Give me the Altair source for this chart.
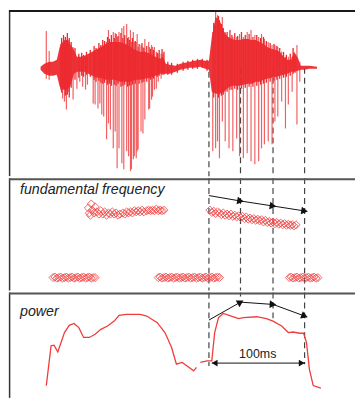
import altair as alt
import pandas as pd
import numpy as np

# ---------------- data ----------------
# waveform: dense core envelope (time ms, upper amp, lower amp)
core_t = [33, 37, 42, 46, 50, 53, 56, 60, 64, 68, 71, 75, 79, 83, 87, 92, 96, 101, 106, 111,
          116, 122, 127, 132, 137, 142, 148, 153, 158, 161, 164, 168, 174, 179, 184, 189, 194,
          200, 205, 209, 212, 216, 220, 225, 229, 233, 237, 241, 245, 250, 254, 258, 262, 266,
          270, 275, 279, 283, 287, 291, 295, 298, 302, 305, 309, 314, 322]
core_hi = [0.01, 0.04, 0.06, 0.06, 0.08, 0.21, 0.26, 0.28, 0.24, 0.18, 0.11, 0.11, 0.12, 0.14,
           0.16, 0.19, 0.21, 0.24, 0.26, 0.26, 0.26, 0.24, 0.21, 0.18, 0.16, 0.16, 0.14, 0.11,
           0.09, 0.11, 0.04, 0.03, 0.02, 0.04, 0.05, 0.06, 0.07, 0.08, 0.07, 0.07, 0.31, 0.51,
           0.48, 0.36, 0.31, 0.29, 0.28, 0.28, 0.29, 0.29, 0.28, 0.28, 0.26, 0.24, 0.21, 0.19,
           0.18, 0.16, 0.11, 0.08, 0.08, 0.16, 0.10, 0.02, 0.02, 0.02, 0.01]
core_lo = [-0.02, -0.06, -0.08, -0.08, -0.07, -0.19, -0.22, -0.22, -0.19, -0.06, -0.04, -0.04,
           -0.04, -0.06, -0.08, -0.10, -0.10, -0.12, -0.12, -0.12, -0.14, -0.14, -0.14, -0.12,
           -0.12, -0.11, -0.10, -0.08, -0.06, -0.06, -0.06, -0.06, -0.04, -0.02, -0.01, 0.00,
           0.00, 0.01, -0.01, -0.02, -0.24, -0.26, -0.26, -0.24, -0.20, -0.18, -0.18, -0.18,
           -0.17, -0.16, -0.16, -0.14, -0.14, -0.12, -0.11, -0.10, -0.09, -0.08, -0.07, -0.06,
           -0.04, -0.04, -0.03, -0.02, -0.02, -0.01, -0.01]

# waveform: pitch-pulse spikes (time ms, upper amp, lower amp)
spike_t = [39, 42, 54, 56, 58, 60, 62, 67, 71, 74, 77, 80, 82, 88, 90, 93, 95, 97, 99, 102,
           104, 106, 109, 111, 113, 115, 118, 120, 123, 125, 127, 128, 130, 131, 133, 134, 135,
           138, 140, 142, 146, 147, 149, 150, 152, 154, 156, 159, 161, 213, 216, 218, 220, 223,
           226, 230, 234, 238, 241, 245, 249, 253, 257, 261, 264, 267, 271, 275, 278, 281, 285,
           289, 292, 296, 301, 304]
spike_hi = [0.37, 0.17, 0.24, 0.24, 0.28, 0.28, 0.28, 0.21, 0.06, 0.09, 0.11, 0.11, 0.11, 0.16,
            0.18, 0.19, 0.20, 0.21, 0.22, 0.26, 0.38, 0.26, 0.36, 0.35, 0.31, 0.36, 0.40, 0.42,
            0.44, 0.31, 0.38, 0.26, 0.36, 0.26, 0.26, 0.34, 0.21, 0.23, 0.21, 0.29, 0.26, 0.21,
            0.23, 0.21, 0.21, 0.16, 0.14, 0.14, 0.14, 0.36, 0.61, 0.53, 0.48, 0.51, 0.36, 0.31,
            0.31, 0.31, 0.34, 0.31, 0.36, 0.38, 0.33, 0.31, 0.34, 0.29, 0.26, 0.23, 0.23, 0.21,
            0.16, 0.11, 0.11, 0.11, 0.23, 0.06]
spike_lo = [-0.11, -0.12, -0.22, -0.31, -0.34, -0.42, -0.24, -0.32, -0.21, -0.14, -0.19, -0.22,
            -0.17, -0.36, -0.37, -0.41, -0.36, -0.47, -0.49, -0.72, -0.56, -0.62, -0.81, -0.64,
            -1.01, -0.81, -0.96, -1.02, -0.84, -0.89, -1.04, -1.02, -0.92, -0.89, -0.91, -0.84,
            -0.82, -0.64, -0.66, -0.52, -0.42, -0.41, -0.32, -0.29, -0.22, -0.21, -0.14, -0.11,
            -0.06, -0.84, -0.81, -0.74, -0.91, -0.54, -0.74, -0.81, -0.84, -0.71, -0.89, -0.91,
            -0.86, -0.94, -0.97, -0.94, -0.81, -0.77, -0.74, -0.77, -0.54, -0.49, -0.34, -0.61,
            -0.37, -0.24, -0.57, -0.14]

# waveform: small ripples on the dense core (time ms, upper amp, lower amp)
ripple_t = [55, 57, 59, 61, 63, 65, 69, 73, 76, 78, 81, 85,
            89, 91, 94, 96, 98, 100, 103, 105, 107, 110, 112, 114, 117, 119, 121, 124, 126, 129,
            132, 136, 139, 141, 144, 148, 151, 155, 157, 160, 162,
            166, 170, 176, 182, 187, 192, 197, 202, 207,
            214, 219, 222, 224, 228, 231, 233, 236, 239, 243, 247, 251, 255, 259, 263, 266, 269,
            273, 277, 280, 283, 287, 290, 294, 297, 299]
ripple_hi = [0.30, 0.33, 0.31, 0.35, 0.30, 0.26, 0.20, 0.14, 0.15, 0.13, 0.16, 0.18,
             0.22, 0.20, 0.25, 0.23, 0.28, 0.27, 0.31, 0.29, 0.33, 0.30, 0.34, 0.32, 0.35, 0.30,
             0.33, 0.30, 0.28, 0.30, 0.27, 0.24, 0.25, 0.20, 0.22, 0.19, 0.18, 0.15, 0.18, 0.19,
             0.16,
             0.06, 0.05, 0.04, 0.06, 0.07, 0.08, 0.09, 0.09, 0.08,
             0.45, 0.52, 0.44, 0.40, 0.36, 0.38, 0.33, 0.35, 0.32, 0.36, 0.33, 0.34, 0.31, 0.33,
             0.30, 0.31, 0.27, 0.25, 0.24, 0.22, 0.20, 0.16, 0.13, 0.14, 0.20, 0.12]
ripple_lo = [-0.25, -0.20, -0.28, -0.27, -0.30, -0.20, -0.12, -0.10, -0.08, -0.09, -0.07, -0.09,
             -0.12, -0.14, -0.13, -0.15, -0.16, -0.15, -0.17, -0.16, -0.18, -0.17, -0.18, -0.16,
             -0.19, -0.18, -0.17, -0.19, -0.18, -0.17, -0.16, -0.16, -0.15, -0.14, -0.14, -0.12,
             -0.11, -0.09, -0.08, -0.07, -0.07,
             -0.07, -0.07, -0.05, -0.03, -0.02, -0.01, -0.01, 0.00, -0.03,
             -0.30, -0.30, -0.28, -0.27, -0.24, -0.22, -0.22, -0.21, -0.22, -0.21, -0.20, -0.19,
             -0.19, -0.18, -0.17, -0.16, -0.15, -0.14, -0.13, -0.12, -0.11, -0.10, -0.09, -0.08,
             -0.06, -0.05]

# fundamental frequency estimates (time ms, Hz)
f0_t = [83, 84, 85, 86, 87, 89, 90, 92, 94, 96, 98, 100, 102, 104, 106, 108, 110, 112, 114, 116,
        119, 121, 123, 125, 127, 129, 131, 133, 135, 137, 139, 141, 144, 146, 148, 150, 152, 154,
        156, 158, 160, 162,
        210, 212, 214, 216, 218, 220, 222, 224, 226, 228, 230, 232, 234, 236, 238, 240, 242, 244,
        246, 248, 250, 252, 254, 256, 258, 260, 262, 264, 266, 268, 270, 272, 274, 276, 278, 280,
        282, 284, 286, 288, 290, 292, 294, 296, 298, 300,
        46, 48, 50, 52, 54, 56, 58, 60, 62, 64, 66, 68, 70, 72, 74, 76, 78, 80, 82, 84, 86, 88, 90,
        156, 158, 160, 162, 164, 166, 168, 170, 172, 174, 176, 178, 180, 182, 184, 186, 188, 190,
        192, 194, 196, 198, 200, 202, 204, 206, 208, 210, 212, 214, 216, 218, 220,
        293, 295, 297, 299, 301, 303, 305, 307, 309, 311, 313, 315, 317, 319, 321, 323]
f0_v = [187, 178, 174, 194, 183, 178, 189, 180, 176, 182, 176, 180, 174, 178, 176, 180, 176, 178,
        174, 176, 178, 176, 180, 178, 180, 178, 182, 180, 182, 180, 183, 180, 182, 183, 182, 183,
        182, 185, 182, 183, 182, 183,
        183, 179, 181, 177, 180, 178, 175, 178, 174, 176, 173, 176, 172, 174, 171, 173, 170, 172,
        168, 171, 167, 169, 166, 168, 165, 167, 164, 166, 162, 165, 161, 163, 160, 162, 159, 161,
        158, 160, 157, 159, 156, 158, 156, 157, 155, 157,
        63, 64, 62, 63, 64, 62, 63, 64, 62, 63, 64, 62, 63, 64, 62, 63, 64, 62, 63, 64, 62, 63, 63,
        63, 64, 62, 63, 64, 62, 63, 64, 62, 63, 64, 62, 63, 64, 62, 63, 64, 62, 63, 64, 62, 63, 64,
        62, 63, 64, 62, 63, 64, 62, 63, 64, 63,
        63, 64, 62, 63, 64, 62, 63, 64, 62, 63, 64, 62, 63, 64, 62, 63]

# power contour (time ms, dB, voiced segment id)
pow_t = [39, 44, 47, 51, 58, 63, 68, 73, 78, 84, 90, 96, 103, 110, 115, 123, 137, 144, 155, 163,
         170, 175, 181, 188, 193, 196,
         200, 207, 212, 215, 219, 224, 234, 240, 245, 259, 269, 276, 285, 292, 297, 304, 308, 311,
         314, 318, 326]
pow_db = [7.0, 29.6, 30.0, 26.2, 37.2, 41.3, 42.4, 40.0, 34.4, 34.4, 36.2, 39.0, 40.9, 43.7, 47.0,
          47.5, 47.5, 46.6, 42.8, 37.2, 28.7, 19.2, 20.2, 17.4, 15.4, 17.4,
          20.2, 21.1, 21.1, 37.2, 45.7, 48.1, 46.2, 45.1, 45.7, 46.2, 45.1, 43.7, 40.9, 37.2, 37.5,
          36.8, 36.8, 31.5, 16.4, 7.0, 5.5]
pow_seg = ["a"] * 26 + ["b"] * 21

# frame boundaries (ms) and trend arrows
mark_t = [209, 242, 276, 309]
f0_arrow = [209, 199.3, 190.4, 181.6]
pow_arrow = [44.3, 54.5, 53.2, 46.6]
wave_dash_top = [-0.04, 0.0, 0.0, 0.0]
pow_dash_end = [18.1, 57.7, 43.0, 19.2]
span_t = [212, 309]
span_db = 19.8

# ---------------- layout ----------------
W = 348
H_WAVE, H_F0, H_POW = 167, 113, 106
X_DOM = [0, 361.7]
WAVE_DOM = [-1.09, 0.58]
F0_DOM = [40, 240]
POW_DOM = [0.0, 60]
RED = "#ec2a2f"
DASH = "#444444"
FONT = "Liberation Sans"

def xs():
    return alt.Scale(domain=X_DOM, nice=False, zero=False)

def ys(dom):
    return alt.Scale(domain=dom, nice=False, zero=False, clamp=True)

def frame(h, top_color, top_w):
    d = pd.DataFrame({"k": [0]})
    left = alt.Chart(d).mark_rule(color="#333333", strokeWidth=1.5).encode(
        x=alt.value(0.6), y=alt.value(0), y2=alt.value(h))
    top = alt.Chart(d).mark_rule(color=top_color, strokeWidth=top_w).encode(
        x=alt.value(0), x2=alt.value(W), y=alt.value(1))
    return [left, top]

px_per_ms = W / (X_DOM[1] - X_DOM[0])

def head_angles(vals, px_per_unit):
    ang = []
    for i in range(1, len(vals)):
        dx = (mark_t[i] - mark_t[i - 1]) * px_per_ms
        dy = -(vals[i] - vals[i - 1]) * px_per_unit
        ang.append(float(np.degrees(np.arctan2(dy, dx)) % 360))
    return ang

def X():
    return alt.X("t:Q", scale=xs(), axis=None)

# ---------------- waveform panel ----------------
core_df = pd.DataFrame({"t": core_t, "hi": core_hi, "lo": core_lo})
spike_df = pd.DataFrame({"t": spike_t, "hi": spike_hi, "lo": spike_lo})
ripple_df = pd.DataFrame({"t": ripple_t, "hi": ripple_hi, "lo": ripple_lo})
wdash_df = pd.DataFrame({"t": mark_t, "y1": wave_dash_top, "y2": [WAVE_DOM[0]] * 4})

wy = ys(WAVE_DOM)
wave_dash = alt.Chart(wdash_df).mark_rule(color=DASH, strokeDash=[6, 4], strokeWidth=1.2).encode(
    x=X(), y=alt.Y("y1:Q", scale=wy, axis=None), y2="y2:Q")
wave_core = alt.Chart(core_df).mark_area(color=RED, opacity=0.95).encode(
    x=X(), y=alt.Y("hi:Q", scale=wy, axis=None), y2="lo:Q")
wave_rip = alt.Chart(ripple_df).mark_rule(color=RED, strokeWidth=1.3).encode(
    x=X(), y=alt.Y("hi:Q", scale=wy, axis=None), y2="lo:Q")
wave_spk = alt.Chart(spike_df).mark_rule(color="#ee3a3c", strokeWidth=1.2, opacity=0.8).encode(
    x=X(), y=alt.Y("hi:Q", scale=wy, axis=None), y2="lo:Q")
wave_panel = alt.layer(wave_dash, wave_spk, wave_core, wave_rip,
                       *frame(H_WAVE, "#1a1a1a", 2)).properties(width=W, height=H_WAVE)

# ---------------- f0 panel ----------------
fy = ys(F0_DOM)
f0_df = pd.DataFrame({"t": f0_t, "v": f0_v})
fdash_df = pd.DataFrame({"t": mark_t, "y1": [F0_DOM[1]] * 4, "y2": [F0_DOM[0]] * 4})
farr_df = pd.DataFrame({"t": mark_t, "v": f0_arrow})
fhead_df = pd.DataFrame({"t": mark_t[1:], "v": f0_arrow[1:],
                         "ang": head_angles(f0_arrow, H_F0 / (F0_DOM[1] - F0_DOM[0]))})

f_dash = alt.Chart(fdash_df).mark_rule(color=DASH, strokeDash=[6, 4], strokeWidth=1.2).encode(
    x=X(), y=alt.Y("y1:Q", scale=fy, axis=None), y2="y2:Q")
f_pts = alt.Chart(f0_df).mark_point(shape="diamond", filled=False, color="#f04646",
                                    size=65, strokeWidth=0.9, opacity=0.9).encode(
    x=X(), y=alt.Y("v:Q", scale=fy, axis=None))
f_line = alt.Chart(farr_df).mark_line(color="#111111", strokeWidth=1).encode(
    x=X(), y=alt.Y("v:Q", scale=fy, axis=None))
f_head = alt.Chart(fhead_df).mark_point(shape="triangle-right", filled=True, color="#111111",
                                        size=60, opacity=1).encode(
    x=X(), y=alt.Y("v:Q", scale=fy, axis=None), angle=alt.Angle("ang:Q", scale=None))
f_lab = alt.Chart(pd.DataFrame({"t": [11.5], "v": [219.0], "s": ["fundamental frequency"]})).mark_text(
    align="left", baseline="middle", font=FONT, fontStyle="italic", fontSize=14.3,
    color="#222222").encode(
    x=X(), y=alt.Y("v:Q", scale=fy, axis=None), text="s:N")
f0_panel = alt.layer(f_dash, f_pts, f_line, f_head, f_lab,
                     *frame(H_F0, "#555555", 2)).properties(width=W, height=H_F0)

# ---------------- power panel ----------------
py = ys(POW_DOM)
pow_df = pd.DataFrame({"t": pow_t, "v": pow_db, "seg": pow_seg})
pdash_df = pd.DataFrame({"t": mark_t, "y1": [POW_DOM[1]] * 4, "y2": pow_dash_end})
parr_df = pd.DataFrame({"t": mark_t, "v": pow_arrow})
phead_df = pd.DataFrame({"t": mark_t[1:], "v": pow_arrow[1:],
                         "ang": head_angles(pow_arrow, H_POW / (POW_DOM[1] - POW_DOM[0]))})
span_df = pd.DataFrame({"t": [span_t[0]], "t2": [span_t[1]], "v": [span_db]})
span_head_df = pd.DataFrame({"t": [span_t[0] + 3, span_t[1] - 3], "v": [span_db, span_db],
                             "ang": [180.0, 0.0]})

p_dash = alt.Chart(pdash_df).mark_rule(color=DASH, strokeDash=[6, 4], strokeWidth=1.2).encode(
    x=X(), y=alt.Y("y1:Q", scale=py, axis=None), y2="y2:Q")
p_line = alt.Chart(pow_df).mark_line(color="#f03c3c", strokeWidth=1.3).encode(
    x=X(), y=alt.Y("v:Q", scale=py, axis=None), detail="seg:N")
p_arr = alt.Chart(parr_df).mark_line(color="#111111", strokeWidth=1).encode(
    x=X(), y=alt.Y("v:Q", scale=py, axis=None))
p_head = alt.Chart(phead_df).mark_point(shape="triangle-right", filled=True, color="#111111",
                                        size=60, opacity=1).encode(
    x=X(), y=alt.Y("v:Q", scale=py, axis=None), angle=alt.Angle("ang:Q", scale=None))
p_span = alt.Chart(span_df).mark_rule(color="#111111", strokeWidth=1).encode(
    x=X(), x2="t2:Q", y=alt.Y("v:Q", scale=py, axis=None))
p_span_head = alt.Chart(span_head_df).mark_point(shape="triangle-right", filled=True,
                                                 color="#111111", size=45, opacity=1).encode(
    x=X(), y=alt.Y("v:Q", scale=py, axis=None), angle=alt.Angle("ang:Q", scale=None))
p_span_lab = alt.Chart(pd.DataFrame({"t": [260], "v": [25.0], "s": ["100ms"]})).mark_text(
    align="center", baseline="middle", font=FONT, fontSize=12.5, color="#222222").encode(
    x=X(), y=alt.Y("v:Q", scale=py, axis=None), text="s:N")
p_lab = alt.Chart(pd.DataFrame({"t": [11.5], "v": [49.0], "s": ["power"]})).mark_text(
    align="left", baseline="middle", font=FONT, fontStyle="italic", fontSize=14.3,
    color="#222222").encode(
    x=X(), y=alt.Y("v:Q", scale=py, axis=None), text="s:N")
pow_panel = alt.layer(p_dash, p_line, p_arr, p_head, p_span, p_span_head, p_span_lab, p_lab,
                      *frame(H_POW, "#555555", 2)).properties(width=W, height=H_POW)

chart = alt.vconcat(wave_panel, f0_panel, pow_panel, spacing=0).properties(
    padding=0).configure_view(stroke=None)

chart.save("out.html", embed_options={"renderer": "svg", "actions": False})
